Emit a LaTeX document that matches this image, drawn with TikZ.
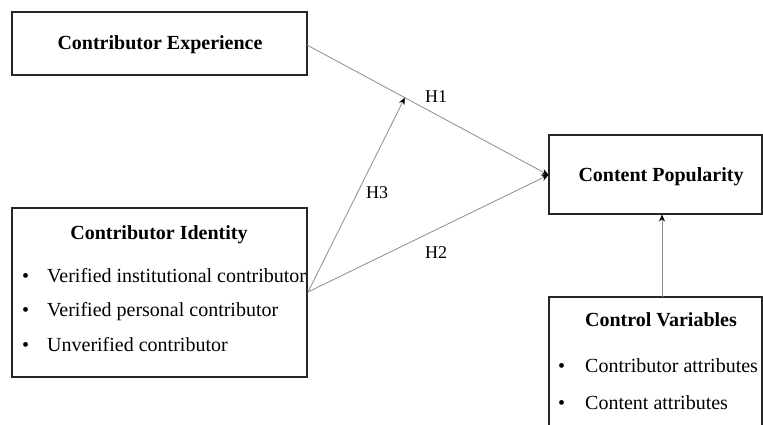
\documentclass[tikz,border=0pt]{standalone}
\usepackage{fontspec}
\setmainfont{Liberation Serif}
\usetikzlibrary{arrows.meta,calc}
\begin{document}
\begin{tikzpicture}[x=1pt,y=-1pt,
  box/.style={draw=black!85,line width=1.3pt,rectangle,inner sep=0pt},
  ttl/.style={font=\fontsize{20}{22}\selectfont\bfseries,inner sep=0pt,anchor=center},
  itm/.style={font=\fontsize{20}{22}\selectfont,inner sep=0pt,anchor=base west},
  lbl/.style={font=\fontsize{18}{20}\selectfont,inner sep=0pt},
  conn/.style={draw=black!45,line width=0.8pt,-{Stealth[length=7pt,width=6pt,color=black]}}]
\useasboundingbox (0,0) rectangle (763,425);
% boxes
\node[box,minimum width=295pt,minimum height=63pt] (exp) at (159.5,43.5) {};
\node[box,minimum width=295pt,minimum height=169pt] (idn) at (159.5,292.5) {};
\node[box,minimum width=213pt,minimum height=79pt] (pop) at (655.5,174.5) {};
\begin{scope}
\clip (540,290) rectangle (763,425);
\node[box,minimum width=213pt,minimum height=140pt] (ctl) at (655.5,367) {};
\end{scope}
% texts
\node[ttl] (t1) at (160,45) {Contributor Experience};
\node[ttl] (t2) at (159,235) {Contributor Identity};
\node[itm] (b1) at (22,282) {•};
\node[itm] (i1) at (47,282) {Verified institutional contributor};
\node[itm] (b2) at (22,316) {•};
\node[itm] (i2) at (47,316) {Verified personal contributor};
\node[itm] (b3) at (22,351) {•};
\node[itm] (i3) at (47,351) {Unverified contributor};
\node[ttl] (t3) at (661,177) {Content Popularity};
\node[ttl] (t4) at (661,320) {Control Variables};
\node[itm] (b4) at (558,372) {•};
\node[itm] (i4) at (585,372) {Contributor attributes};
\node[itm] (b5) at (558,409) {•};
\node[itm] (i5) at (585,409) {Content attributes};
% connectors
\coordinate (s1) at (307,45);
\coordinate (s2) at (308,292);
\coordinate (e1) at (548.5,175);
\coordinate (m) at ($(s1)!0.405!(e1)$);
\coordinate (cs) at (662,296.5);
\coordinate (ce) at (662,214.5);
\draw[conn] (s1) -- (e1);
\draw[conn] (s2) -- (e1);
\draw[conn] (s2) -- (m);
\draw[conn] (cs) -- (ce);
% labels
\node[lbl] (h1) at (436,97) {H1};
\node[lbl] (h3) at (377,193) {H3};
\node[lbl] (h2) at (436,253) {H2};
\end{tikzpicture}
\end{document}
